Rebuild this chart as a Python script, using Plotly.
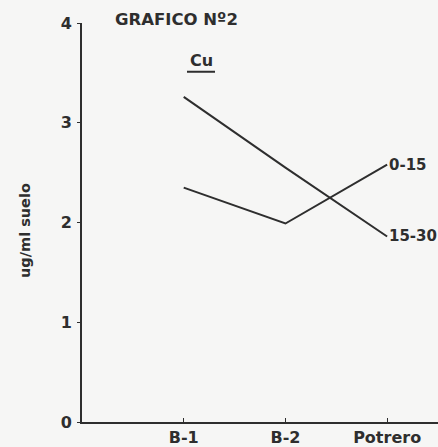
import plotly.graph_objects as go

categories = ["B-1", "B-2", "Potrero"]
x_pos = [1, 2, 3]
depth_0_15 = [2.35, 1.99, 2.58]
depth_15_30 = [3.26, 2.55, 1.86]
series_labels = ["0-15", "15-30"]
y_ticks = [0, 1, 2, 3, 4]

ink = "#2e2e2e"
font_family = "DejaVu Sans, Liberation Sans, sans-serif"

fig = go.Figure()
for vals, name in [(depth_0_15, series_labels[0]), (depth_15_30, series_labels[1])]:
    fig.add_trace(go.Scatter(x=x_pos, y=vals, mode="lines", name=name,
                             line=dict(color=ink, width=2), cliponaxis=False,
                             showlegend=False))
    fig.add_annotation(x=x_pos[-1], y=vals[-1], text=name, showarrow=False,
                       xanchor="left", yanchor="middle", xshift=0,
                       font=dict(family=font_family, size=15, color=ink, weight="bold"))

fig.update_layout(
    width=438, height=447,
    margin=dict(l=82, r=0, t=23, b=23),
    paper_bgcolor="#f6f6f5", plot_bgcolor="#f6f6f5",
    font=dict(family=font_family, color=ink),
)
fig.update_xaxes(range=[0, 3.5], tickvals=x_pos, ticktext=categories,
                 showgrid=False, zeroline=False, showline=True,
                 linecolor=ink, linewidth=2, ticks="inside", ticklen=4,
                 tickcolor=ink, tickfont=dict(size=16, color=ink, weight="bold"))
fig.update_yaxes(range=[0, 4], tickvals=y_ticks, showgrid=False,
                 zeroline=False, showline=True, linecolor=ink, linewidth=2,
                 ticks="outside", ticklen=3, tickcolor=ink, ticklabelstandoff=2,
                 tickfont=dict(size=16, color=ink, weight="bold"))

fig.add_annotation(xref="paper", yref="paper", x=(25 - 82) / 356, y=(424 - 232) / 401,
                   text="<b>ug/ml suelo</b>", textangle=-90, showarrow=False,
                   xanchor="center", yanchor="middle",
                   font=dict(family=font_family, size=14.5, color=ink))
fig.add_annotation(xref="paper", yref="paper", x=(113 - 82) / 356, y=(424 - 19) / 401,
                   text="<b>GRAFICO Nº2</b>", showarrow=False, xanchor="left",
                   yanchor="middle", font=dict(family=font_family, size=16.5, color=ink))
fig.add_annotation(xref="paper", yref="paper", x=(201 - 82) / 356, y=(424 - 61) / 401,
                   text="<b>Cu</b>", showarrow=False, xanchor="center",
                   yanchor="middle", font=dict(family=font_family, size=16, color=ink))
fig.add_shape(type="line", xref="paper", yref="paper",
              x0=(187 - 82) / 356, x1=(215 - 82) / 356,
              y0=(424 - 72) / 401, y1=(424 - 72) / 401,
              line=dict(color=ink, width=2))

fig.write_html("out.html")
